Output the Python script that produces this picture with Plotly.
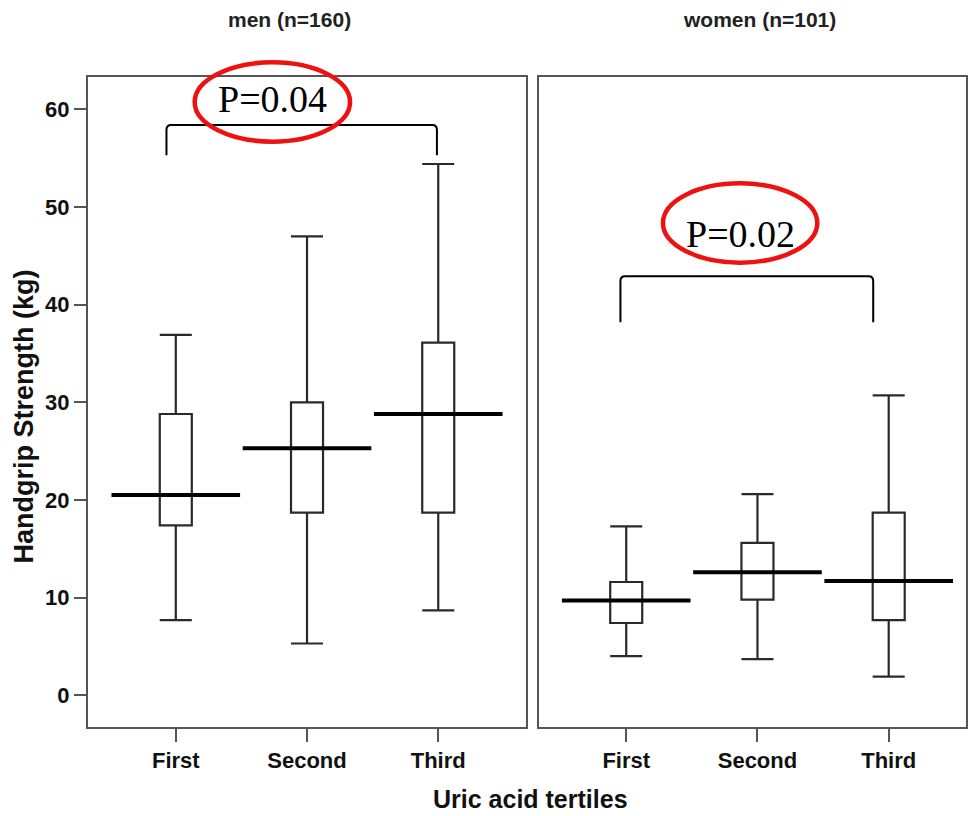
import plotly.graph_objects as go

# ---------------- data ----------------
categories = ["First", "Second", "Third"]
panel_titles = ["men (n=160)", "women (n=101)"]
p_values = ["P=0.04", "P=0.02"]
y_ticks = [0, 10, 20, 30, 40, 50, 60]

men_low = [7.7, 5.3, 8.7]
men_q1 = [17.4, 18.7, 18.7]
men_median = [20.5, 25.3, 28.8]
men_q3 = [28.8, 30.0, 36.1]
men_high = [36.9, 47.0, 54.4]

women_low = [4.0, 3.7, 1.9]
women_q1 = [7.4, 9.8, 7.7]
women_median = [9.7, 12.6, 11.7]
women_q3 = [11.6, 15.6, 18.7]
women_high = [17.3, 20.6, 30.7]

# ---------------- layout geometry / style ----------------
W, H = 970, 816
M = dict(l=88, r=2, t=77, b=89)
X_DOMAINS = [[0.0, 0.4989], [0.5136, 1.0]]
X_RANGES = [[-0.669, 2.669], [-0.665, 2.589]]
Y_RANGE = [-3.25, 63.31]
BOX_WIDTH = 0.244
MEDIAN_HALF = 0.49
AXIS_COLOR = "#555555"
TICK_FONT = dict(family="Liberation Sans, Arial", size=22, color="#111111", weight="bold")
TITLE_FONT = dict(family="Liberation Sans, Arial", size=21, color="#222222", weight="bold")
XTITLE_FONT = dict(family="Liberation Sans, Arial", size=25, color="#111111", weight="bold")
YTITLE_FONT = dict(family="Liberation Sans, Arial", size=27, color="#111111", weight="bold")
P_FONT = dict(family="Liberation Serif, Times New Roman, serif", size=38, color="black")

# bracket spec per panel: (left cat, right cat, top value, bottom value)
brackets = [(-0.071, 1.99, 58.4, 55.3), (-0.044, 1.882, 42.9, 38.2)]
# p-text anchor per panel (cat, value)
p_pos = [(0.74, 61.1), (0.868, 47.2)]
# ellipse per panel: (center cat, center value, half-width cat, half-height value)
ellipses = [(0.736, 60.75, 0.592, 4.06), (0.868, 48.36, 0.588, 4.06)]


def to_paper_x(panel, v):
    d0, d1 = X_DOMAINS[panel]
    r0, r1 = X_RANGES[panel]
    return d0 + (v - r0) / (r1 - r0) * (d1 - d0)


def to_paper_y(v):
    return (v - Y_RANGE[0]) / (Y_RANGE[1] - Y_RANGE[0])


fig = go.Figure()

groups = [
    (men_low, men_q1, men_median, men_q3, men_high),
    (women_low, women_q1, women_median, women_q3, women_high),
]

for p, (lo, q1, med, q3, hi) in enumerate(groups):
    xa = "x" if p == 0 else "x2"
    ya = "y" if p == 0 else "y2"
    for i in range(len(categories)):
        fig.add_trace(go.Box(
            x=[i], q1=[q1[i]], median=[med[i]], q3=[q3[i]],
            lowerfence=[lo[i]], upperfence=[hi[i]],
            orientation="v", width=BOX_WIDTH, whiskerwidth=1,
            boxpoints=False, fillcolor="white",
            line=dict(color="#2a2a2a", width=2.2),
            xaxis=xa, yaxis=ya, showlegend=False, hoverinfo="skip",
        ))
    for i in range(len(categories)):
        fig.add_trace(go.Scatter(
            x=[i - MEDIAN_HALF, i + MEDIAN_HALF], y=[med[i], med[i]],
            mode="lines", line=dict(color="black", width=4),
            xaxis=xa, yaxis=ya, showlegend=False, hoverinfo="skip",
        ))

shapes = []
annotations = []
for p in range(2):
    xa = "x" if p == 0 else "x2"
    ya = "y" if p == 0 else "y2"
    l, r, t, b = brackets[p]
    rx, ry = 0.035, 0.5
    path = (f"M {l},{b} L {l},{t - ry} Q {l},{t} {l + rx},{t} "
            f"L {r - rx},{t} Q {r},{t} {r},{t - ry} L {r},{b}")
    shapes.append(dict(type="path", path=path, xref=xa, yref=ya,
                       line=dict(color="black", width=2)))
    cx, cy, ex, ey = ellipses[p]
    shapes.append(dict(type="circle", xref="paper", yref="paper",
                       x0=to_paper_x(p, cx - ex), x1=to_paper_x(p, cx + ex),
                       y0=to_paper_y(cy - ey), y1=to_paper_y(cy + ey),
                       line=dict(color="#ee1111", width=4.5), layer="above"))
    annotations.append(dict(text=p_values[p], x=p_pos[p][0], y=p_pos[p][1], xref=xa, yref=ya,
                            showarrow=False, font=P_FONT, xanchor="center", yanchor="middle"))

annotations.append(dict(text=panel_titles[0], x=0.2295, y=1.0877, xref="paper", yref="paper",
                        showarrow=False, font=TITLE_FONT, xanchor="center", yanchor="middle"))
annotations.append(dict(text=panel_titles[1], x=0.765, y=1.0877, xref="paper", yref="paper",
                        showarrow=False, font=TITLE_FONT, xanchor="center", yanchor="middle"))
annotations.append(dict(text="Handgrip Strength (kg)", x=-0.0727, y=0.478, xref="paper", yref="paper",
                        showarrow=False, font=YTITLE_FONT, textangle=-90,
                        xanchor="center", yanchor="middle"))
annotations.append(dict(text="Uric acid tertiles", x=0.5045, y=-0.111, xref="paper", yref="paper",
                        showarrow=False, font=XTITLE_FONT, xanchor="center", yanchor="middle"))

axis_common = dict(showline=True, mirror=True, linecolor=AXIS_COLOR, linewidth=2,
                   zeroline=False, showgrid=False, ticks="outside",
                   tickcolor=AXIS_COLOR, tickwidth=2)

fig.update_layout(
    width=W, height=H, margin=M,
    paper_bgcolor="white", plot_bgcolor="white",
    boxmode="overlay",
    xaxis=dict(domain=X_DOMAINS[0], range=X_RANGES[0], tickvals=[0, 1, 2],
               ticktext=categories, ticklen=13, tickfont=TICK_FONT, anchor="y", **axis_common),
    xaxis2=dict(domain=X_DOMAINS[1], range=X_RANGES[1], tickvals=[0, 1, 2],
                ticktext=categories, ticklen=13, tickfont=TICK_FONT, anchor="y2", **axis_common),
    yaxis=dict(range=Y_RANGE, tickvals=y_ticks, ticklen=12, tickfont=TICK_FONT,
               anchor="x", **axis_common),
    yaxis2=dict(range=Y_RANGE, tickvals=y_ticks, showticklabels=False, anchor="x2",
                **{**axis_common, "ticks": ""}),
    shapes=shapes,
    annotations=annotations,
)

fig.write_html("out.html")
